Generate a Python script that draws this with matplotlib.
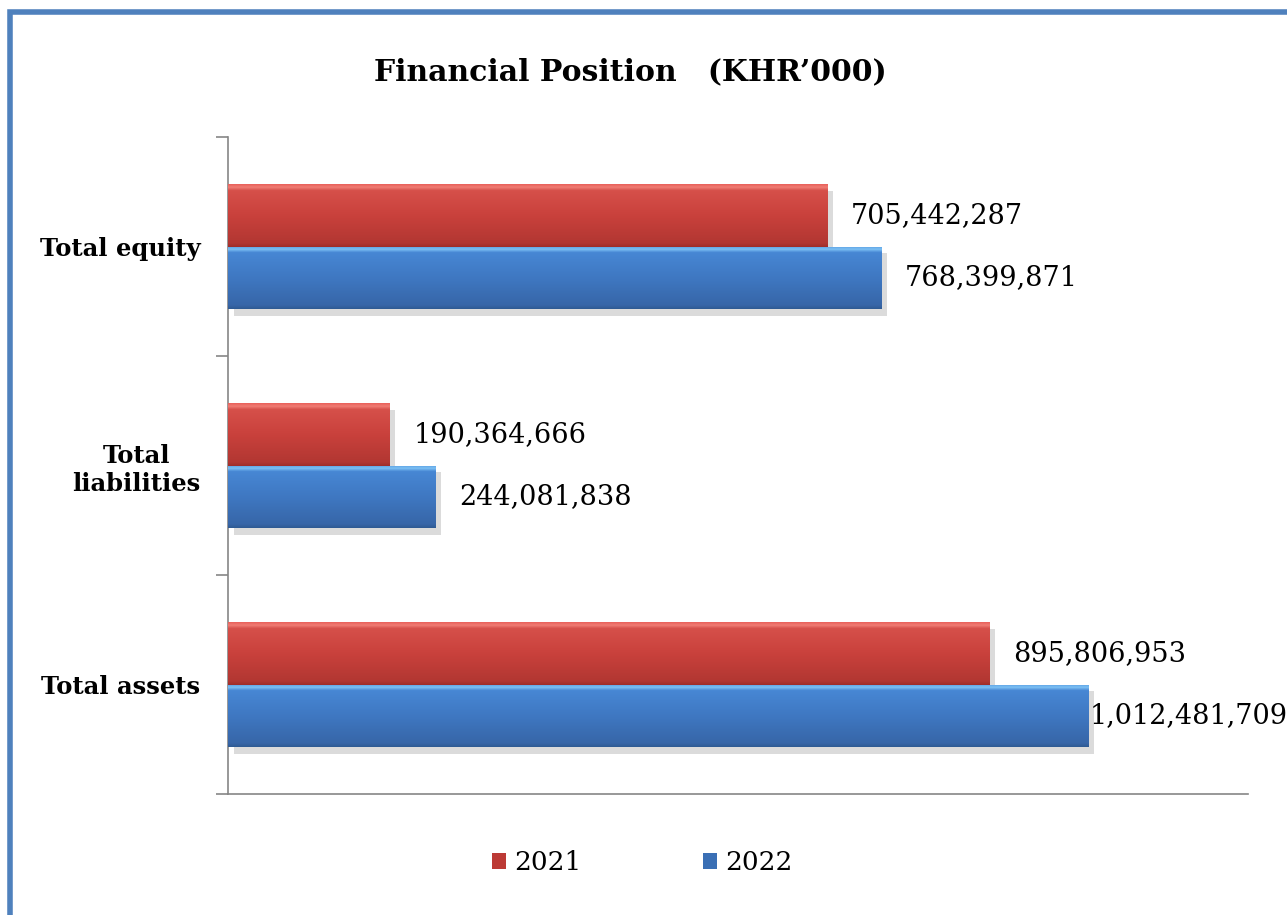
import matplotlib
matplotlib.use("Agg")
import matplotlib.pyplot as plt
import matplotlib.patheffects as pe
from matplotlib.colors import LinearSegmentedColormap
from matplotlib.patches import Patch, Rectangle
import numpy as np

# 데이터
categories = ["Total assets", "Total\nliabilities", "Total equity"]
years = ["2021", "2022"]
values_2021 = [895806953, 190364666, 705442287]
values_2022 = [1012481709, 244081838, 768399871]

plt.rcParams['font.family'] = ['DejaVu Serif']

fig = plt.figure(figsize=(12.87, 9.15), dpi=100)
ax = fig.add_axes([228/1287, 1 - 794/915, 1020/1287, (794 - 137)/915])

h = 0.285
y = np.arange(len(categories))

# 그라데이션 색상 (위 -> 아래)
red_cmap = LinearSegmentedColormap.from_list(
    "r", [(0, "#9E2E2A"), (0.06, "#B23732"), (0.5, "#C9413C"), (0.9, "#D6504A"), (0.95, "#F07C74"), (1, "#E8605A")])
blue_cmap = LinearSegmentedColormap.from_list(
    "b", [(0, "#2F5A92"), (0.06, "#3766A8"), (0.5, "#3F78C2"), (0.9, "#4787D4"), (0.95, "#7CC0F4"), (1, "#5A9EE2")])

shadow = [pe.SimplePatchShadow(offset=(4, -5), shadow_rgbFace="#9A9A9A", alpha=0.35), pe.Normal()]

bars_r = ax.barh(y + h/2, values_2021, height=h, color="#C9413C", path_effects=shadow, zorder=2)
bars_b = ax.barh(y - h/2, values_2022, height=h, color="#3F78C2", path_effects=shadow, zorder=2)

grad = np.linspace(0, 1, 256).reshape(-1, 1)
for bars, cmap in [(bars_r, red_cmap), (bars_b, blue_cmap)]:
    for b in bars:
        x0, y0 = b.get_x(), b.get_y()
        im = ax.imshow(grad, extent=[x0, x0 + b.get_width(), y0, y0 + b.get_height()],
                       origin="lower", aspect="auto", cmap=cmap, zorder=3)
        im.set_clip_path(b)

# 값 레이블
vmax = max(values_2022 + values_2021)
for bars, vals in [(bars_r, values_2021), (bars_b, values_2022)]:
    for b, v in zip(bars, vals):
        off = 1 if v == vmax else 17
        ax.annotate(f"{v:,}", xy=(v, b.get_y() + b.get_height()/2), xytext=(off, 0),
                    textcoords="offset points", va="center", ha="left", fontsize=19.5, color="black",
                    annotation_clip=False)

ax.set_xlim(0, 1.2e9)
ax.set_ylim(-0.5, len(categories) - 0.5)

ax.set_yticks(y)
ax.set_yticklabels(categories, fontweight="bold", fontsize=17.5, multialignment="center")
ax.set_yticks(np.arange(-0.5, len(categories)), minor=True)
ax.tick_params(axis="y", which="major", length=0, pad=20)
ax.tick_params(axis="y", which="minor", length=9, color="#868686", width=1.2)
ax.set_xticks([])

for s in ["top", "right"]:
    ax.spines[s].set_visible(False)
for s in ["left", "bottom"]:
    ax.spines[s].set_color("#868686")
    ax.spines[s].set_linewidth(1.2)

fig.text(630/1287, 1 - 72/915, "Financial Position   (KHR\u2019000)", ha="center", va="center",
         fontsize=21.5, fontweight="bold")

handles = [Patch(facecolor="#BC3A35"), Patch(facecolor="#3A6FB5")]
fig.legend(handles, years, loc="center", bbox_to_anchor=(642/1287, 1 - 863/915), ncol=2,
           frameon=False, fontsize=19, handlelength=0.55, handleheight=0.55, handletextpad=0.3,
           columnspacing=4.6)

# 테두리
fig.patches.append(Rectangle((9.5/1287, -0.1), 1.5, 1 - 12/915 + 0.1, transform=fig.transFigure,
                             fill=False, edgecolor="#4F81BD", linewidth=4, zorder=10))

fig.savefig("out.png", dpi=100)
